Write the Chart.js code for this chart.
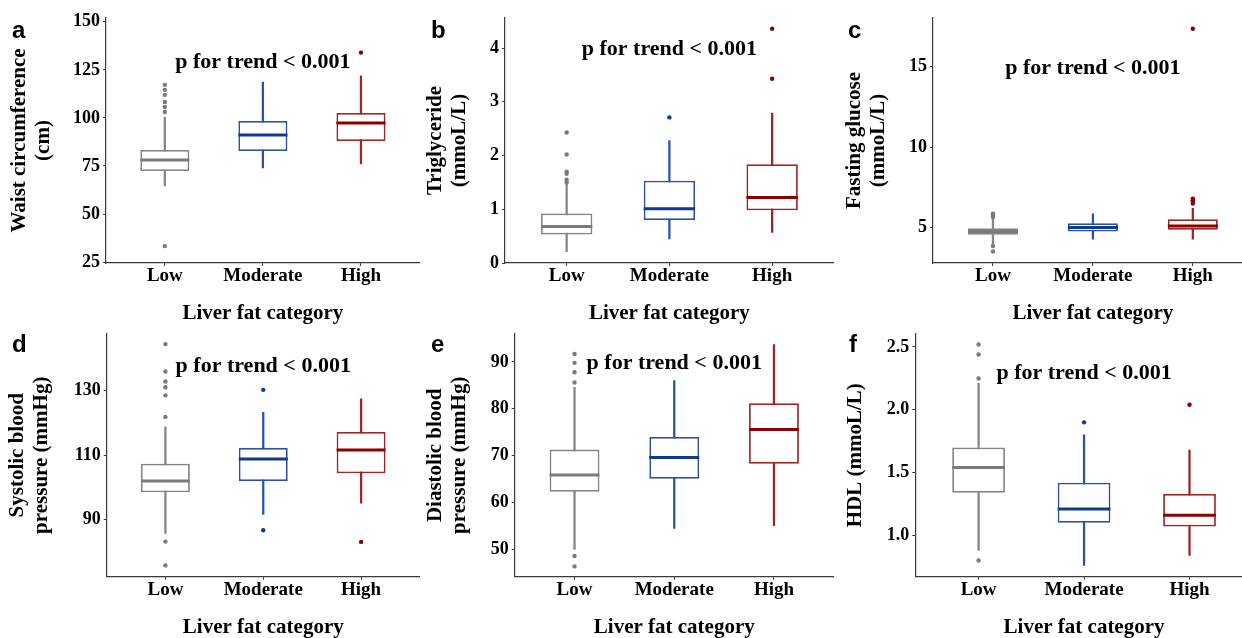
<!DOCTYPE html>
<html>
<head>
<meta charset="utf-8">
<script src="https://cdn.jsdelivr.net/npm/chart.js@4.4.1/dist/chart.umd.min.js"></script>
<style>
  html, body { margin: 0; padding: 0; background: #fff; }
  body { position: relative; width: 1242px; height: 638px; overflow: hidden; }
  canvas { position: absolute; }
</style>
</head>
<body>
<script>
// --- DATA ---
const CATEGORIES = ['Low', 'Moderate', 'High'];
const BOX_COLORS = ['#858585', '#2a50a8', '#a52222'];
const MEDIAN_COLORS = ['#7a7a7a', '#0c3b8f', '#8b0000'];

// each box: [lower whisker, Q1, median, Q3, upper whisker]
const WAIST_STATS = [[64.6, 72.4, 78.1, 83.3, 100.5], [74.0, 82.8, 91.1, 98.4, 118.7], [76.0, 88.0, 97.4, 102.6, 121.9]];
const WAIST_OUTLIERS = [[117.2, 114.6, 112.0, 108.3, 105.7, 103.1, 33.3], [], [134.0]];
const WAIST_TICKS = ['25', '50', '75', '100', '125', '150'];
const WAIST_RANGE = [24.5, 152];

const TG_STATS = [[0.21, 0.53, 0.68, 0.92, 1.48], [0.45, 0.80, 1.01, 1.53, 2.28], [0.57, 0.98, 1.22, 1.84, 2.79]];
const TG_OUTLIERS = [[2.43, 2.02, 1.70, 1.66, 1.55, 1.50], [2.71], [4.36, 3.43]];
const TG_TICKS = ['0', '1', '2', '3', '4'];
const TG_RANGE = [0, 4.56];

const FG_STATS = [[3.93, 4.55, 4.75, 4.96, 5.55], [4.28, 4.75, 5.00, 5.27, 5.85], [4.28, 4.86, 5.10, 5.52, 6.20]];
const FG_OUTLIERS = [[5.65, 5.72, 5.80, 5.87, 3.86, 3.51], [], [6.50, 6.60, 6.70, 6.80, 17.35]];
const FG_TICKS = ['5', '10', '15'];
const FG_RANGE = [2.8, 18.02];

const SBP_STATS = [[85.7, 98.5, 102.0, 107.4, 118.8], [91.6, 102.0, 108.8, 112.3, 123.3], [95.1, 104.4, 111.6, 117.2, 127.5]];
const SBP_OUTLIERS = [[144.5, 136.0, 132.9, 131.1, 128.6, 121.9, 83.2, 75.8], [130.3, 86.7], [83.1]];
const SBP_TICKS = ['90', '110', '130'];
const SBP_RANGE = [72.3, 147.7];

const DBP_STATS = [[50.0, 62.3, 65.9, 71.3, 84.6], [54.5, 65.1, 69.6, 74.0, 86.0], [55.1, 68.3, 75.6, 81.2, 93.7]];
const DBP_OUTLIERS = [[91.7, 89.8, 87.8, 85.6, 48.6, 46.4], [], []];
const DBP_TICKS = ['50', '60', '70', '80', '90'];
const DBP_RANGE = [44.2, 96];

const HDL_STATS = [[0.88, 1.34, 1.54, 1.70, 2.21], [0.76, 1.10, 1.21, 1.42, 1.80], [0.84, 1.07, 1.16, 1.33, 1.68]];
const HDL_OUTLIERS = [[2.52, 2.44, 2.25, 0.80], [1.90], [2.04]];
const HDL_TICKS = ['1.0', '1.5', '2.0', '2.5'];
const HDL_RANGE = [0.671, 2.605];

const P_TEXT = 'p for trend < 0.001';
const X_TITLE = 'Liver fat category';

// --- LAYOUT ---
const SERIF = '"Liberation Serif", "Times New Roman", serif';
const SANS = '"Liberation Sans", Arial, sans-serif';
const BOX_HALF = 0.25;

const PANELS = [
  { id: 'a', stats: WAIST_STATS, outliers: WAIST_OUTLIERS, ticks: WAIST_TICKS, range: WAIST_RANGE, title: ['Waist circumference', '(cm)'],
    left: 0, top: 0, w: 422, h: 326, axisX: 106, areaTop: 18, areaBottom: 263, titlePad: 8, letterX: 12, letterY: 38, pY: 129 },
  { id: 'b', stats: TG_STATS, outliers: TG_OUTLIERS, ticks: TG_TICKS, range: TG_RANGE, title: ['Triglyceride', '(mmoL/L)'],
    left: 414, top: 0, w: 422, h: 326, axisX: 91, areaTop: 18, areaBottom: 263, titlePad: 10, letterX: 17, letterY: 38, pY: 3.97 },
  { id: 'c', stats: FG_STATS, outliers: FG_OUTLIERS, ticks: FG_TICKS, range: FG_RANGE, title: ['Fasting glucose', '(mmoL/L)'],
    left: 828, top: 0, w: 427, h: 326, axisX: 105, areaTop: 18, areaBottom: 263, titlePad: 15, letterX: 20, letterY: 38, pY: 14.9 },
  { id: 'd', stats: SBP_STATS, outliers: SBP_OUTLIERS, ticks: SBP_TICKS, range: SBP_RANGE, title: ['Systolic blood', 'pressure (mmHg)'],
    left: 0, top: 320, w: 422, h: 320, axisX: 106.7, areaTop: 11.7, areaBottom: 256.7, titlePad: 6, letterX: 12, letterY: 32, pY: 137.5 },
  { id: 'e', stats: DBP_STATS, outliers: DBP_OUTLIERS, ticks: DBP_TICKS, range: DBP_RANGE, title: ['Diastolic blood', 'pressure (mmHg)'],
    left: 414, top: 320, w: 422, h: 320, axisX: 100.7, areaTop: 11.7, areaBottom: 256.7, titlePad: 10, letterX: 17, letterY: 32, pY: 89.8 },
  { id: 'f', stats: HDL_STATS, outliers: HDL_OUTLIERS, ticks: HDL_TICKS, range: HDL_RANGE, title: 'HDL (mmoL/L)',
    left: 828, top: 320, w: 427, h: 320, axisX: 87.3, areaTop: 11.7, areaBottom: 256.7, titlePad: 16, letterX: 21, letterY: 32, pY: 2.29 }
];

Chart.defaults.font.family = SERIF;
Chart.defaults.color = '#000';

function buildPanel(p) {
  const canvas = document.createElement('canvas');
  canvas.width = p.w;
  canvas.height = p.h;
  canvas.style.left = p.left + 'px';
  canvas.style.top = p.top + 'px';
  canvas.style.width = p.w + 'px';
  canvas.style.height = p.h + 'px';
  document.body.appendChild(canvas);

  // boxy, wąsy, mediany, punkty odstające
  const boxes = p.stats.map((s, i) => ({ x: i + 1, y: [s[1], s[3]] }));
  const whiskers = p.stats.map((s, i) => ({ x: i + 1, y: [s[0], s[4]] }));
  const medians = [];
  p.stats.forEach((s, i) => {
    medians.push({ x: i + 1 - BOX_HALF, y: s[2] }, { x: i + 1 + BOX_HALF, y: s[2] }, { x: i + 1, y: null });
  });
  const dots = [];
  const dotColors = [];
  p.outliers.forEach((list, i) => list.forEach(v => {
    dots.push({ x: i + 1, y: v });
    dotColors.push(MEDIAN_COLORS[i]);
  }));

  const labels = {
    id: 'panelLabels',
    afterDraw(chart) {
      const ctx = chart.ctx;
      ctx.save();
      ctx.fillStyle = '#000';
      ctx.font = 'bold 22px ' + SERIF;
      ctx.textAlign = 'center';
      ctx.textBaseline = 'middle';
      ctx.fillText(P_TEXT, chart.scales.x.getPixelForValue(2), chart.scales.y.getPixelForValue(p.pY));
      ctx.font = 'bold 24px ' + SANS;
      ctx.textAlign = 'left';
      ctx.textBaseline = 'alphabetic';
      ctx.fillText(p.id, p.letterX, p.letterY);
      ctx.restore();
    }
  };

  const axisStyle = {
    border: { display: true, color: '#3a3a3a', width: 1.2 },
    grid: { drawOnChartArea: false, drawTicks: true, tickLength: 3, color: '#3a3a3a', lineWidth: 1, offset: false }
  };

  new Chart(canvas, {
    type: 'bar',
    data: {
      datasets: [
        { type: 'scatter', data: dots, order: 0, pointRadius: 2.2, pointHoverRadius: 2.2,
          pointBackgroundColor: dotColors, pointBorderWidth: 0 },
        { type: 'line', data: medians, order: 1, borderWidth: 3, pointRadius: 0, spanGaps: false,
          borderCapStyle: 'butt', fill: false,
          segment: { borderColor: ctx => MEDIAN_COLORS[Math.round(ctx.p0.parsed.x) - 1] } },
        { type: 'bar', data: boxes, order: 2, grouped: false, barPercentage: 0.5, categoryPercentage: 1,
          backgroundColor: '#fff', borderColor: BOX_COLORS, borderWidth: 1.8, borderSkipped: false },
        { type: 'bar', data: whiskers, order: 3, grouped: false, barThickness: 1.6,
          backgroundColor: BOX_COLORS, borderWidth: 0 }
      ]
    },
    options: {
      responsive: false,
      animation: false,
      devicePixelRatio: 1,
      events: [],
      layout: { padding: { top: p.areaTop, right: 0, bottom: 0, left: 0 } },
      plugins: { legend: { display: false }, tooltip: { enabled: false } },
      scales: {
        x: {
          type: 'linear', min: 0.4, max: 3.6, offset: false,
          afterBuildTicks: s => { s.ticks = CATEGORIES.map((c, i) => ({ value: i + 1 })); },
          afterFit: s => { s.height = p.h - p.areaBottom; },
          ticks: { callback: (v, i) => CATEGORIES[i], autoSkip: false, maxRotation: 0, padding: 1,
                   color: '#000', font: { size: 19, weight: 'bold', lineHeight: 1 } },
          title: { display: true, text: X_TITLE, color: '#000', padding: { top: 0, bottom: 0 },
                   font: { size: 21, weight: 'bold', lineHeight: 1.143 } },
          ...axisStyle
        },
        y: {
          type: 'linear', min: p.range[0], max: p.range[1],
          afterBuildTicks: s => { s.ticks = p.ticks.map(t => ({ value: Number(t) })); },
          afterFit: s => { s.width = p.axisX; },
          ticks: { callback: (v, i) => p.ticks[i], autoSkip: false, padding: 3,
                   color: '#000', font: { size: 18, weight: 'bold' } },
          title: { display: true, text: p.title, color: '#000', padding: { top: p.titlePad, bottom: 0 },
                   font: { size: 21, weight: 'bold', lineHeight: 1.143 } },
          ...axisStyle
        }
      }
    },
    plugins: [labels]
  });
}

PANELS.forEach(buildPanel);
</script>
</body>
</html>
